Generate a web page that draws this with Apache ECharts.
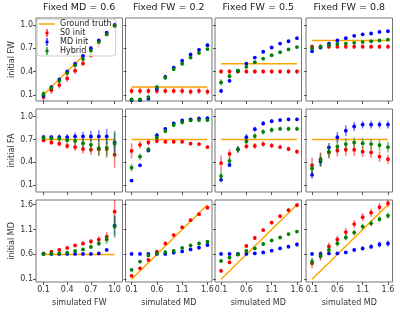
<!DOCTYPE html>
<html>
<head>
<meta charset="utf-8">
<script src="https://cdn.jsdelivr.net/npm/echarts@6/dist/echarts.min.js"></script>
<style>
html, body { margin: 0; padding: 0; background: #fff; }
#main { width: 400px; height: 315px; }
</style>
</head>
<body>
<div id="main"></div>
<script>
// simulated values on the x axis
const fwX = [0.1, 0.2, 0.3, 0.4, 0.5, 0.6, 0.7, 0.8, 0.9, 1.0];
const mdX = [0.1, 0.267, 0.433, 0.6, 0.767, 0.933, 1.1, 1.267, 1.433, 1.6];

const colTitles = ["Fixed MD = 0.6", "Fixed FW = 0.2", "Fixed FW = 0.5", "Fixed FW = 0.8"];
const rowNames = ["initial FW", "initial FA", "initial MD"];
const colNames = ["simulated FW", "simulated MD", "simulated MD", "simulated MD"];
const xTicks = [[0.1, 0.4, 0.7, 1.0], [0.1, 0.6, 1.1, 1.6], [0.1, 0.6, 1.1, 1.6], [0.1, 0.6, 1.1, 1.6]];
const yTicks = [[0.1, 0.4, 0.7, 1.0], [0.1, 0.4, 0.7, 1.0], [0.1, 0.6, 1.1, 1.6]];

// ground truth lines (start / end)
const truthX = [[0.1, 1.0], [0.1, 1.6], [0.1, 1.6], [0.1, 1.6]];
const truthFW = [[0.1, 1.0], [0.2, 0.2], [0.5, 0.5], [0.8, 0.8]];
const truthFA = [[0.7, 0.7], [0.7, 0.7], [0.7, 0.7], [0.7, 0.7]];
const truthMD = [[0.6, 0.6], [0.1, 1.6], [0.1, 1.6], [0.1, 1.6]];

// initial FW
const fwS0 = [
  [0.07, 0.16, 0.225, 0.31, 0.41, 0.505, 0.61, 0.73, 0.86, 0.99],
  [0.15, 0.15, 0.15, 0.15, 0.15, 0.15, 0.15, 0.14, 0.15, 0.14],
  [0.40, 0.40, 0.40, 0.40, 0.40, 0.40, 0.40, 0.40, 0.40, 0.40],
  [0.72, 0.72, 0.72, 0.72, 0.72, 0.72, 0.72, 0.72, 0.72, 0.72]
];
const fwS0Err = [
  [0.05, 0.05, 0.045, 0.045, 0.04, 0.035, 0.035, 0.03, 0.025, 0.015],
  [0.04, 0.04, 0.04, 0.04, 0.04, 0.04, 0.04, 0.04, 0.04, 0.04],
  [0.03, 0.03, 0.03, 0.03, 0.03, 0.03, 0.03, 0.03, 0.03, 0.03],
  [0.03, 0.03, 0.03, 0.03, 0.03, 0.03, 0.03, 0.03, 0.03, 0.03]
];
const fwMD = [
  [0.09, 0.2, 0.3, 0.4, 0.5, 0.6, 0.7, 0.8, 0.9, 1.0],
  [0.03, 0.03, 0.05, 0.18, 0.33, 0.45, 0.54, 0.62, 0.68, 0.74],
  [0.15, 0.28, 0.41, 0.50, 0.58, 0.655, 0.71, 0.76, 0.79, 0.83],
  [0.66, 0.71, 0.76, 0.80, 0.83, 0.86, 0.88, 0.89, 0.91, 0.92]
];
const fwMDErr = [
  [0.03, 0.025, 0.02, 0.02, 0.02, 0.02, 0.02, 0.015, 0.015, 0.01],
  [0.02, 0.02, 0.02, 0.02, 0.03, 0.02, 0.02, 0.02, 0.02, 0.02],
  [0.03, 0.02, 0.02, 0.02, 0.02, 0.015, 0.015, 0.015, 0.015, 0.015],
  [0.015, 0.015, 0.015, 0.015, 0.015, 0.015, 0.015, 0.015, 0.015, 0.015]
];
const fwHy = [
  [0.11, 0.19, 0.28, 0.38, 0.48, 0.56, 0.67, 0.78, 0.88, 0.99],
  [0.04, 0.04, 0.07, 0.20, 0.32, 0.43, 0.50, 0.58, 0.64, 0.69],
  [0.26, 0.34, 0.41, 0.46, 0.52, 0.565, 0.61, 0.65, 0.685, 0.715],
  [0.70, 0.72, 0.74, 0.755, 0.76, 0.77, 0.78, 0.79, 0.80, 0.81]
];
const fwHyErr = [
  [0.04, 0.035, 0.03, 0.03, 0.03, 0.025, 0.025, 0.02, 0.02, 0.01],
  [0.02, 0.02, 0.02, 0.03, 0.02, 0.02, 0.02, 0.02, 0.02, 0.02],
  [0.04, 0.03, 0.02, 0.02, 0.015, 0.015, 0.015, 0.015, 0.015, 0.015],
  [0.015, 0.015, 0.015, 0.015, 0.015, 0.015, 0.015, 0.015, 0.015, 0.015]
];

// initial FA
const faS0 = [
  [0.69, 0.66, 0.645, 0.615, 0.60, 0.575, 0.565, 0.57, 0.575, 0.50],
  [0.55, 0.63, 0.66, 0.68, 0.67, 0.67, 0.67, 0.645, 0.64, 0.60],
  [0.39, 0.51, 0.57, 0.61, 0.615, 0.64, 0.62, 0.60, 0.575, 0.54],
  [0.36, 0.44, 0.53, 0.555, 0.565, 0.565, 0.54, 0.53, 0.475, 0.44]
];
const faS0Err = [
  [0.03, 0.03, 0.035, 0.04, 0.05, 0.06, 0.07, 0.08, 0.09, 0.17],
  [0.1, 0.05, 0.04, 0.03, 0.02, 0.02, 0.02, 0.02, 0.02, 0.02],
  [0.1, 0.06, 0.04, 0.04, 0.04, 0.035, 0.035, 0.03, 0.03, 0.03],
  [0.1, 0.09, 0.08, 0.08, 0.08, 0.08, 0.07, 0.07, 0.07, 0.06]
];
const faMD = [
  [0.73, 0.73, 0.73, 0.73, 0.74, 0.74, 0.74, 0.74, 0.74, 0.66],
  [0.16, 0.36, 0.555, 0.755, 0.84, 0.91, 0.95, 0.965, 0.975, 0.98],
  [0.17, 0.365, 0.57, 0.73, 0.835, 0.91, 0.94, 0.955, 0.965, 0.965],
  [0.235, 0.41, 0.595, 0.73, 0.815, 0.87, 0.895, 0.895, 0.895, 0.895]
];
const faMDErr = [
  [0.03, 0.03, 0.035, 0.04, 0.05, 0.06, 0.07, 0.08, 0.1, 0.13],
  [0.02, 0.02, 0.02, 0.02, 0.02, 0.02, 0.02, 0.015, 0.015, 0.015],
  [0.03, 0.03, 0.04, 0.04, 0.035, 0.03, 0.03, 0.025, 0.02, 0.02],
  [0.05, 0.06, 0.06, 0.07, 0.07, 0.06, 0.05, 0.05, 0.05, 0.05]
];
const faHy = [
  [0.72, 0.715, 0.71, 0.69, 0.68, 0.65, 0.63, 0.585, 0.59, 0.645],
  [0.33, 0.475, 0.57, 0.725, 0.81, 0.89, 0.925, 0.95, 0.955, 0.955],
  [0.22, 0.42, 0.57, 0.675, 0.745, 0.80, 0.825, 0.84, 0.84, 0.84],
  [0.32, 0.43, 0.54, 0.605, 0.64, 0.66, 0.65, 0.64, 0.625, 0.60]
];
const faHyErr = [
  [0.03, 0.03, 0.035, 0.04, 0.05, 0.06, 0.08, 0.1, 0.13, 0.17],
  [0.05, 0.04, 0.03, 0.03, 0.03, 0.03, 0.03, 0.02, 0.02, 0.02],
  [0.07, 0.05, 0.04, 0.04, 0.04, 0.035, 0.035, 0.03, 0.03, 0.03],
  [0.07, 0.09, 0.08, 0.08, 0.08, 0.07, 0.07, 0.07, 0.07, 0.07]
];

// initial MD
const mdS0 = [
  [0.62, 0.655, 0.69, 0.73, 0.78, 0.82, 0.86, 0.90, 0.96, 1.46],
  [0.17, 0.32, 0.49, 0.655, 0.82, 0.99, 1.145, 1.29, 1.41, 1.54],
  [0.27, 0.44, 0.60, 0.77, 0.93, 1.09, 1.24, 1.37, 1.49, 1.59],
  [0.42, 0.57, 0.76, 0.90, 1.05, 1.21, 1.35, 1.44, 1.55, 1.63]
];
const mdS0Err = [
  [0.02, 0.02, 0.025, 0.03, 0.035, 0.04, 0.05, 0.06, 0.09, 0.25],
  [0.03, 0.03, 0.03, 0.03, 0.03, 0.03, 0.035, 0.035, 0.035, 0.035],
  [0.04, 0.04, 0.04, 0.04, 0.04, 0.04, 0.04, 0.04, 0.04, 0.04],
  [0.1, 0.1, 0.08, 0.08, 0.08, 0.08, 0.08, 0.08, 0.08, 0.08]
];
const mdMD = [
  [0.61, 0.61, 0.61, 0.61, 0.61, 0.61, 0.61, 0.62, 0.69, 1.18],
  [0.61, 0.61, 0.61, 0.61, 0.61, 0.635, 0.66, 0.70, 0.735, 0.79],
  [0.61, 0.61, 0.61, 0.61, 0.62, 0.64, 0.675, 0.72, 0.755, 0.80],
  [0.61, 0.61, 0.62, 0.62, 0.64, 0.69, 0.72, 0.755, 0.80, 0.82]
];
const mdMDErr = [
  [0.01, 0.01, 0.01, 0.01, 0.01, 0.01, 0.01, 0.015, 0.03, 0.2],
  [0.015, 0.015, 0.015, 0.015, 0.02, 0.02, 0.025, 0.03, 0.035, 0.04],
  [0.015, 0.015, 0.015, 0.015, 0.02, 0.02, 0.025, 0.03, 0.035, 0.04],
  [0.02, 0.02, 0.02, 0.03, 0.03, 0.04, 0.04, 0.05, 0.06, 0.06]
];
const mdHy = [
  [0.61, 0.615, 0.62, 0.635, 0.67, 0.70, 0.75, 0.82, 0.90, 1.16],
  [0.29, 0.455, 0.58, 0.62, 0.645, 0.67, 0.73, 0.78, 0.82, 0.855],
  [0.47, 0.535, 0.60, 0.67, 0.72, 0.81, 0.88, 0.94, 1.01, 1.06],
  [0.455, 0.57, 0.69, 0.82, 0.94, 1.04, 1.16, 1.225, 1.31, 1.38]
];
const mdHyErr = [
  [0.015, 0.015, 0.015, 0.02, 0.025, 0.03, 0.04, 0.05, 0.09, 0.22],
  [0.03, 0.03, 0.03, 0.03, 0.03, 0.03, 0.03, 0.03, 0.035, 0.035],
  [0.03, 0.03, 0.03, 0.03, 0.03, 0.03, 0.03, 0.03, 0.03, 0.03],
  [0.08, 0.07, 0.06, 0.06, 0.06, 0.06, 0.06, 0.06, 0.06, 0.06]
];

const rowData = [
  { truth: truthFW, s0: fwS0, s0e: fwS0Err, md: fwMD, mde: fwMDErr, hy: fwHy, hye: fwHyErr },
  { truth: truthFA, s0: faS0, s0e: faS0Err, md: faMD, mde: faMDErr, hy: faHy, hye: faHyErr },
  { truth: truthMD, s0: mdS0, s0e: mdS0Err, md: mdMD, mde: mdMDErr, hy: mdHy, hye: mdHyErr }
];

const RED = "#ff0000", BLUE = "#0000ff", GREEN = "#008000", ORANGE = "#ffa500";
const FONT = "DejaVu Sans";

const colLeft = [36, 125.5, 215, 306];
const colWidth = 86.5;
const rowTop = [18, 109, 200];
const rowHeight = [83, 83, 82];
const xRange = [[0.005, 1.1], [-0.02, 1.69], [-0.02, 1.69], [-0.02, 1.69]];
const yRange = [[0.02, 1.09], [0.01, 1.1], [0.045, 1.695]];

function errSeries(name, color, gi, xs, ys, es, z) {
  return {
    name: name,
    type: "custom",
    xAxisIndex: gi,
    yAxisIndex: gi,
    itemStyle: { color: color },
    z: z,
    data: xs.map(function (x, i) { return [x, ys[i], es[i]]; }),
    encode: { x: 0, y: 1 },
    renderItem: function (params, api) {
      var x = api.value(0), y = api.value(1), e = api.value(2);
      var cs = params.coordSys;
      var lo = api.coord([x, y - e]), hi = api.coord([x, y + e]), c = api.coord([x, y]);
      // keep the bar inside the panel
      var y1 = Math.min(lo[1], cs.y + cs.height), y2 = Math.max(hi[1], cs.y);
      return {
        type: "group",
        children: [
          { type: "line", shape: { x1: c[0], y1: y1, x2: c[0], y2: y2 },
            style: { stroke: color, lineWidth: 1.6, opacity: 0.5 } },
          { type: "circle", shape: { cx: c[0], cy: c[1], r: 1.9 },
            style: { fill: color } }
        ]
      };
    }
  };
}

var grids = [], xAxes = [], yAxes = [], series = [], titles = [];
for (var r = 0; r < 3; r++) {
  for (var c = 0; c < 4; c++) {
    var gi = r * 4 + c;
    var xs = c === 0 ? fwX : mdX;
    grids.push({
      left: colLeft[c], top: rowTop[r], width: colWidth, height: rowHeight[r],
      show: true, borderColor: "#777", borderWidth: 1, backgroundColor: "#fff"
    });
    xAxes.push({
      type: "value", gridIndex: gi, min: xRange[c][0], max: xRange[c][1],
      axisLine: { show: false },
      splitLine: { show: false },
      axisTick: { show: true, customValues: xTicks[c], length: 3, lineStyle: { color: "#555" } },
      axisLabel: {
        show: r === 2, customValues: xTicks[c], fontSize: 8, margin: 4, color: "#333",
        fontFamily: FONT, formatter: function (v) { return v.toFixed(1); }
      },
      name: r === 2 ? colNames[c] : "",
      nameLocation: "middle", nameGap: 17,
      nameTextStyle: { fontSize: 8, color: "#333", fontFamily: FONT }
    });
    yAxes.push({
      type: "value", gridIndex: gi, min: yRange[r][0], max: yRange[r][1],
      axisLine: { show: false },
      splitLine: { show: false },
      axisTick: { show: true, customValues: yTicks[r], length: 3, lineStyle: { color: "#555" } },
      axisLabel: {
        show: c === 0, customValues: yTicks[r], fontSize: 8, margin: 3, color: "#333",
        fontFamily: FONT, formatter: function (v) { return v.toFixed(1); }
      },
      name: c === 0 ? rowNames[r] : "",
      nameLocation: "middle", nameGap: 19, nameRotate: 90,
      nameTextStyle: { fontSize: 8, color: "#333", fontFamily: FONT }
    });
    var d = rowData[r];
    series.push({
      name: "Ground truth", type: "line", xAxisIndex: gi, yAxisIndex: gi,
      symbol: "none", silent: true, z: 2,
      lineStyle: { color: ORANGE, width: 1.5 }, itemStyle: { color: ORANGE },
      data: [[truthX[c][0], d.truth[c][0]], [truthX[c][1], d.truth[c][1]]]
    });
    series.push(errSeries("S0 init", RED, gi, xs, d.s0[c], d.s0e[c], 3));
    series.push(errSeries("MD init", BLUE, gi, xs, d.md[c], d.mde[c], 4));
    series.push(errSeries("Hybrid", GREEN, gi, xs, d.hy[c], d.hye[c], 5));
  }
}
for (var k = 0; k < 4; k++) {
  titles.push({
    text: colTitles[k], left: colLeft[k] + colWidth / 2, top: 3, textAlign: "center", padding: 0,
    textStyle: { fontSize: 9.5, fontWeight: "normal", color: "#222", fontFamily: FONT }
  });
}

var errIcon = "path://M7.4,0h1.2v8h-1.2z M6.5,2.8h3v2.4h-3z";
var chart = echarts.init(document.getElementById("main"), null, { renderer: "canvas" });
chart.setOption({
  animation: false,
  title: titles,
  legend: {
    left: 37, top: 19, orient: "vertical", itemWidth: 16, itemHeight: 8, itemGap: 1,
    padding: [1, 4, 1, 2],
    backgroundColor: "rgba(255,255,255,0.85)", borderColor: "#ccc", borderWidth: 1, borderRadius: 3,
    textStyle: { fontSize: 8, color: "#222", fontFamily: FONT },
    data: [
      { name: "Ground truth", icon: "path://M0,0h16v1.5h-16z", itemStyle: { color: ORANGE } },
      { name: "S0 init", icon: errIcon, itemStyle: { color: RED, borderWidth: 0 } },
      { name: "MD init", icon: errIcon, itemStyle: { color: BLUE, borderWidth: 0 } },
      { name: "Hybrid", icon: errIcon, itemStyle: { color: GREEN, borderWidth: 0 } }
    ]
  },
  grid: grids,
  xAxis: xAxes,
  yAxis: yAxes,
  series: series
});
</script>
</body>
</html>
